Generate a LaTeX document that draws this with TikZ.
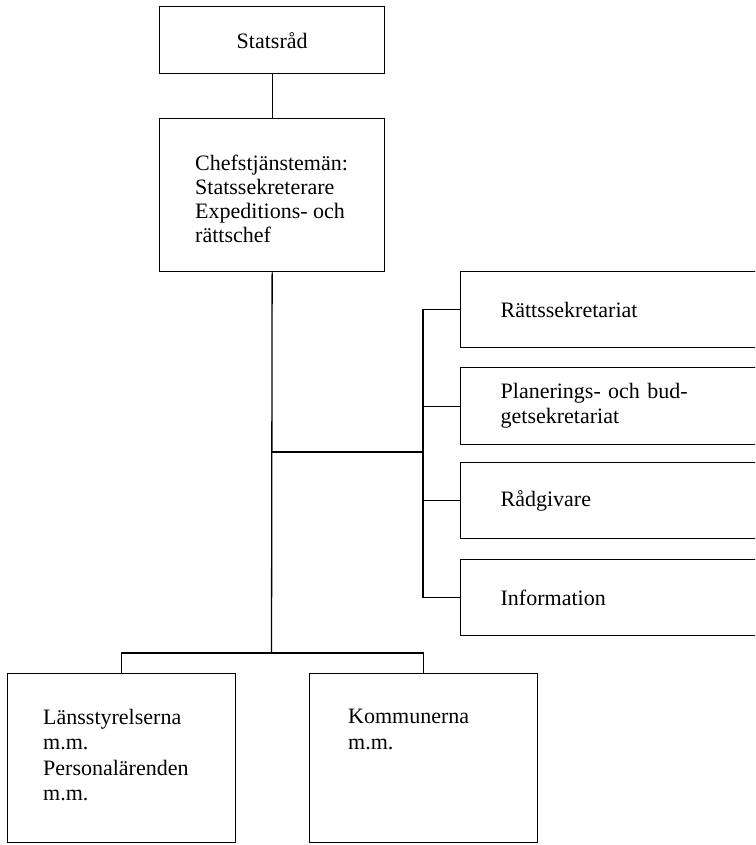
\documentclass[tikz,border=0pt]{standalone}
\usepackage{fontspec}
\setmainfont{Liberation Serif}
\begin{document}
\begin{tikzpicture}[x=1pt,y=-1pt,
  box/.style={draw, line width=1.3pt, inner sep=0pt, anchor=north west},
  rbox/.style={box, minimum width=300pt, text width=220pt, inner xsep=40pt, inner ysep=0pt, align=left, font=\fontsize{22}{25}\selectfont},
  txt/.style={inner sep=0pt, anchor=north west, align=left, font=\fontsize{22}{24}\selectfont},
  conn/.style={line width=1.3pt}]
\useasboundingbox (0,0) rectangle (755,845);
\clip (0,0) rectangle (755,845);
% top
\node[box, minimum width=225pt, minimum height=67pt, font=\fontsize{22}{24}\selectfont] (s) at (159,6) {Statsråd};
\node[box, minimum width=225pt, minimum height=153pt] (c) at (159,118) {};
\node[txt] (ct) at (195,155) {Chefstjänstemän:\\Statssekreterare\\Expeditions- och\\rättschef};
% right column
\node[rbox, minimum height=76pt] (r1) at (460,271) {Rättssekretariat};
\node[rbox, minimum height=77pt] (r2) at (460,367) {Planerings- och bud-\\getsekretariat};
\node[rbox, minimum height=76pt] (r3) at (460,462) {Rådgivare};
\node[rbox, minimum height=76pt] (r4) at (460,559) {Information};
% bottom
\node[box, minimum width=228pt, minimum height=169pt] (b1) at (7,673) {};
\node[txt, font=\fontsize{22}{25.5}\selectfont] (b1t) at (43,709) {Länsstyrelserna\\m.m.\\Personalärenden\\m.m.};
\node[box, minimum width=228pt, minimum height=169pt] (b2) at (309,673) {};
\node[txt, font=\fontsize{22}{25.5}\selectfont] (b2t) at (348,709) {Kommunerna\\m.m.};
% junctions
\coordinate (j1) at (271.5,452);
\coordinate (j2) at (271.5,653);
\coordinate (bk) at (423,452);
% connectors
\draw[conn] (s) -- (c);
\draw[conn] (c.south) -- (j2);
\draw[conn] (j1) -- (bk);
\draw[conn] (r1.west) -| (bk |- r4.west) -- (r4.west);
\draw[conn] (r2.west) -- (r2.west -| bk);
\draw[conn] (r3.west) -- (r3.west -| bk);
\draw[conn] (b1.north) |- (j2) -| (b2.north);
\end{tikzpicture}
\end{document}
